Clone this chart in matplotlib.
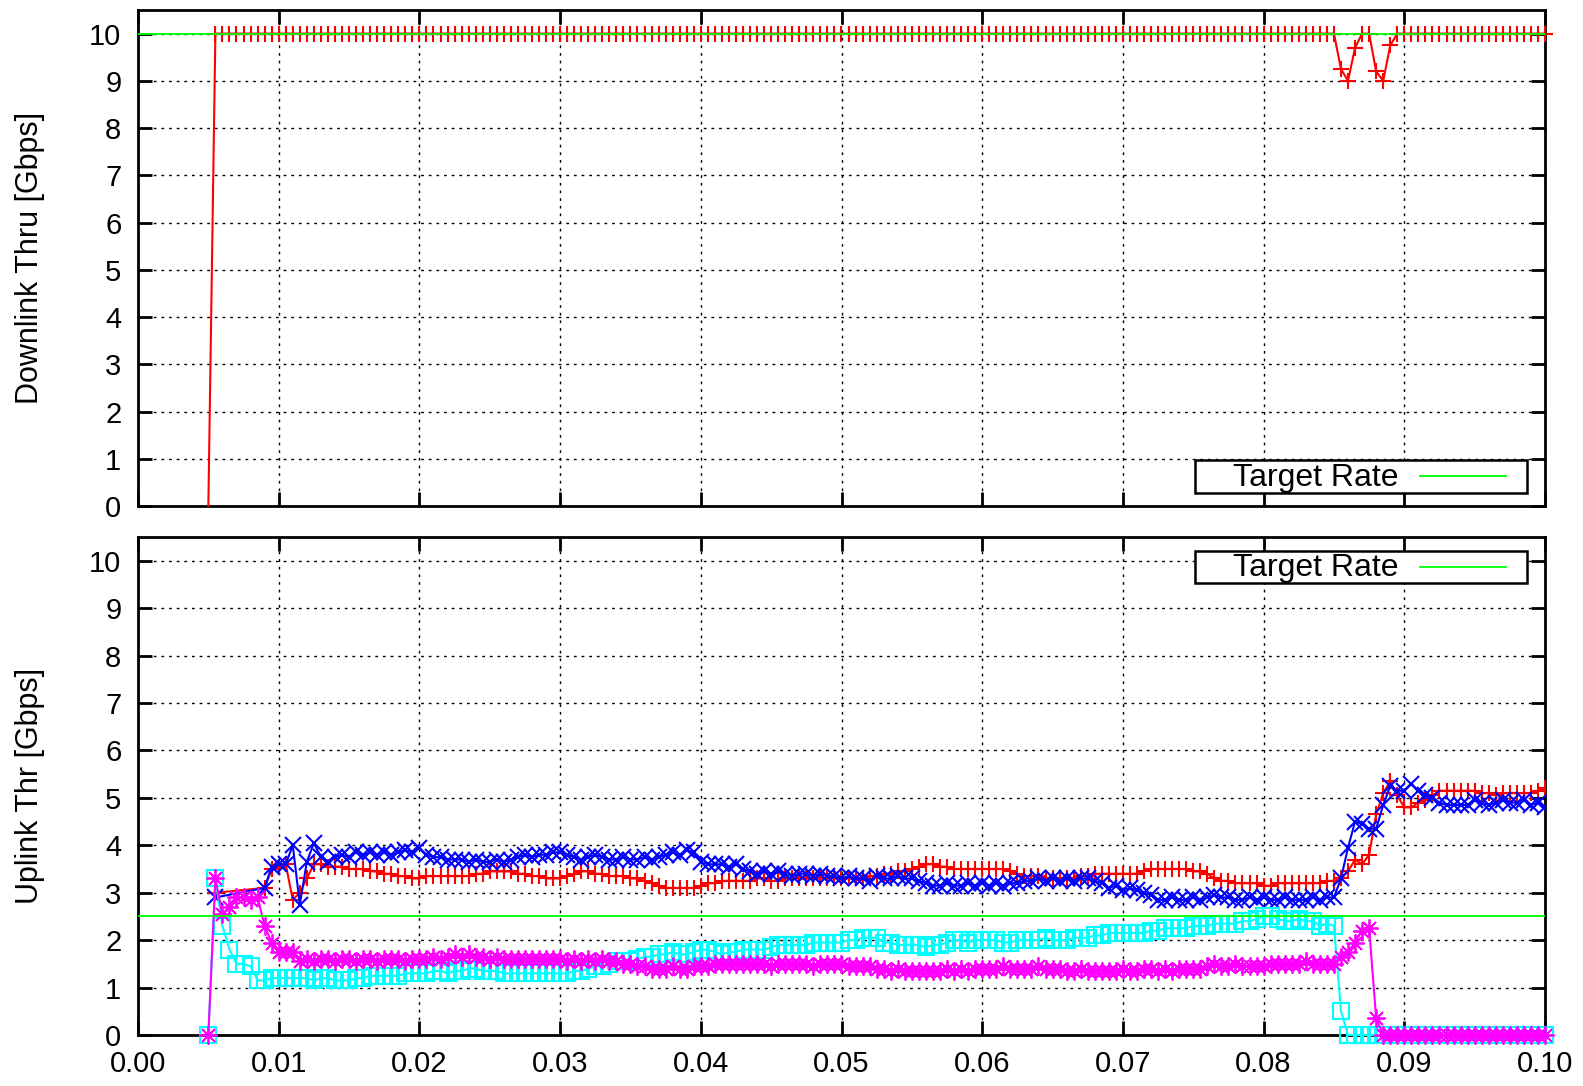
import numpy as np
import matplotlib
matplotlib.use("Agg")
import matplotlib.pyplot as plt
from matplotlib.patches import Rectangle
from matplotlib.lines import Line2D

plt.rcParams['font.family'] = ['Liberation Sans', 'DejaVu Sans']

nan = np.nan

# ---------------- data ----------------
time_start = 0.005
time_step = 0.0005
n_samples = 191
time_s = time_start + time_step * np.arange(n_samples)

target_down = 10.0
target_up = 2.5

x_ticks = [0.00, 0.01, 0.02, 0.03, 0.04, 0.05, 0.06, 0.07, 0.08, 0.09, 0.10]
x_tick_labels = ["0.00", "0.01", "0.02", "0.03", "0.04", "0.05",
                 "0.06", "0.07", "0.08", "0.09", "0.10"]
y_ticks = [0, 1, 2, 3, 4, 5, 6, 7, 8, 9, 10]

# downlink throughput (Gbps)
down_red = [
    0, 10, 10, 10, 10, 10, 10, 10, 10, 10,
    10, 10, 10, 10, 10, 10, 10, 10, 10, 10,
    10, 10, 10, 10, 10, 10, 10, 10, 10, 10,
    10, 10, 10, 10, 10, 10, 10, 10, 10, 10,
    10, 10, 10, 10, 10, 10, 10, 10, 10, 10,
    10, 10, 10, 10, 10, 10, 10, 10, 10, 10,
    10, 10, 10, 10, 10, 10, 10, 10, 10, 10,
    10, 10, 10, 10, 10, 10, 10, 10, 10, 10,
    10, 10, 10, 10, 10, 10, 10, 10, 10, 10,
    10, 10, 10, 10, 10, 10, 10, 10, 10, 10,
    10, 10, 10, 10, 10, 10, 10, 10, 10, 10,
    10, 10, 10, 10, 10, 10, 10, 10, 10, 10,
    10, 10, 10, 10, 10, 10, 10, 10, 10, 10,
    10, 10, 10, 10, 10, 10, 10, 10, 10, 10,
    10, 10, 10, 10, 10, 10, 10, 10, 10, 10,
    10, 10, 10, 10, 10, 10, 10, 10, 10, 10,
    10, 9.25, 9.0, 9.7, 10, 10, 9.2, 9.0, 9.75, 10,
    10, 10, 10, 10, 10, 10, 10, 10, 10, 10,
    10, 10, 10, 10, 10, 10, 10, 10, 10, 10,
    10,
]

# uplink throughput (Gbps); nan = no sample at that time
up_red = [
    nan, 3.0, nan, nan, nan, nan, nan, nan, 3.1, 3.5,
    3.55, 3.6, 2.85, 3.0, 3.3, 3.6, 3.6, 3.55, 3.55, 3.55,
    3.5, 3.5, 3.5, 3.45, 3.45, 3.4, 3.4, 3.35, 3.35, 3.3,
    3.3, 3.35, 3.35, 3.35, 3.35, 3.35, 3.35, 3.35, 3.4, 3.4,
    3.45, 3.45, 3.45, 3.45, 3.4, 3.4, 3.35, 3.35, 3.3, 3.3,
    3.3, 3.35, 3.4, 3.45, 3.45, 3.4, 3.4, 3.35, 3.35, 3.35,
    3.3, 3.3, 3.25, 3.2, 3.15, 3.1, 3.1, 3.1, 3.1, 3.1,
    3.15, 3.2, 3.2, 3.25, 3.25, 3.25, 3.25, 3.25, 3.3, 3.3,
    3.25, 3.25, 3.3, 3.3, 3.3, 3.3, 3.3, 3.3, 3.3, 3.3,
    3.3, 3.3, 3.3, 3.3, 3.35, 3.35, 3.4, 3.4, 3.45, 3.45,
    3.5, 3.55, 3.6, 3.6, 3.55, 3.55, 3.5, 3.5, 3.5, 3.5,
    3.5, 3.5, 3.5, 3.5, 3.45, 3.4, 3.35, 3.35, 3.35, 3.3,
    3.3, 3.3, 3.3, 3.3, 3.35, 3.35, 3.4, 3.4, 3.4, 3.4,
    3.4, 3.4, 3.4, 3.45, 3.5, 3.5, 3.5, 3.5, 3.5, 3.5,
    3.45, 3.45, 3.4, 3.3, 3.25, 3.25, 3.2, 3.2, 3.2, 3.2,
    3.15, 3.15, 3.2, 3.2, 3.2, 3.2, 3.2, 3.2, 3.2, 3.25,
    3.25, 3.3, 3.45, 3.7, 3.6, 3.8, 4.65, 5.1, 5.35, 5.05,
    4.8, 4.8, 4.9, 4.95, 5.05, 5.15, 5.15, 5.15, 5.15, 5.15,
    5.15, 5.1, 5.1, 5.05, 5.1, 5.1, 5.1, 5.1, 5.1, 5.15,
    5.2,
]

up_blue = [
    nan, 2.9, nan, nan, nan, nan, nan, nan, 3.1, 3.55,
    3.6, 3.6, 4.0, 2.75, 3.65, 4.05, 3.75, 3.65, 3.75, 3.8,
    3.75, 3.85, 3.8, 3.85, 3.8, 3.85, 3.8, 3.85, 3.9, 3.85,
    3.95, 3.8, 3.75, 3.75, 3.7, 3.7, 3.7, 3.65, 3.7, 3.65,
    3.65, 3.7, 3.65, 3.7, 3.75, 3.8, 3.75, 3.8, 3.8, 3.85,
    3.85, 3.8, 3.75, 3.7, 3.75, 3.8, 3.75, 3.7, 3.7, 3.75,
    3.7, 3.7, 3.75, 3.7, 3.75, 3.8, 3.85, 3.8, 3.9, 3.85,
    3.65, 3.6, 3.6, 3.6, 3.55, 3.6, 3.5, 3.45, 3.4, 3.45,
    3.4, 3.45, 3.4, 3.35, 3.4, 3.4, 3.35, 3.4, 3.35, 3.35,
    3.3, 3.35, 3.3, 3.3, 3.25, 3.35, 3.3, 3.3, 3.35, 3.3,
    3.3, 3.25, 3.2, 3.15, 3.15, 3.2, 3.15, 3.15, 3.2, 3.15,
    3.2, 3.15, 3.2, 3.15, 3.2, 3.2, 3.25, 3.25, 3.3, 3.25,
    3.3, 3.25, 3.3, 3.25, 3.3, 3.3, 3.25, 3.2, 3.1, 3.15,
    3.05, 3.1, 3.05, 3.0, 2.95, 2.85, 2.85, 2.9, 2.85, 2.85,
    2.9, 2.85, 2.9, 2.95, 2.9, 2.9, 2.85, 2.85, 2.9, 2.85,
    2.9, 2.85, 2.85, 2.9, 2.85, 2.85, 2.85, 2.9, 2.85, 2.9,
    2.9, 3.3, 3.95, 4.5, 4.45, 4.35, 4.35, 4.85, 5.25, 5.15,
    5.15, 5.3, 5.15, 5.05, 5.0, 4.9, 4.85, 4.85, 4.85, 4.85,
    4.95, 4.9, 4.85, 4.9, 4.95, 4.9, 4.9, 4.95, 4.85, 4.9,
    4.8,
]

up_cyan = [
    0.0, 3.3, 2.3, 1.8, 1.5, 1.5, 1.45, 1.15, 1.15, 1.2,
    1.2, 1.2, 1.2, 1.2, 1.2, 1.15, 1.2, 1.2, 1.15, 1.15,
    1.15, 1.2, 1.2, 1.25, 1.25, 1.25, 1.25, 1.25, 1.3, 1.3,
    1.3, 1.3, 1.35, 1.35, 1.3, 1.35, 1.35, 1.4, 1.4, 1.35,
    1.35, 1.35, 1.3, 1.3, 1.3, 1.3, 1.3, 1.3, 1.3, 1.3,
    1.3, 1.3, 1.35, 1.35, 1.4, 1.45, 1.45, 1.5, 1.55, 1.55,
    1.55, 1.6, 1.65, 1.65, 1.7, 1.7, 1.75, 1.7, 1.7, 1.75,
    1.8, 1.8, 1.75, 1.7, 1.75, 1.75, 1.8, 1.8, 1.8, 1.8,
    1.85, 1.9, 1.9, 1.9, 1.9, 1.9, 1.95, 1.95, 1.95, 1.95,
    1.95, 2.0, 2.0, 2.05, 2.05, 2.05, 1.95, 1.95, 1.9, 1.9,
    1.9, 1.9, 1.85, 1.9, 1.9, 1.95, 2.0, 2.0, 1.95, 2.0,
    2.0, 2.0, 2.0, 1.95, 1.95, 2.0, 2.0, 2.0, 2.0, 2.05,
    2.0, 2.0, 2.0, 2.05, 2.05, 2.05, 2.1, 2.1, 2.15, 2.15,
    2.15, 2.15, 2.15, 2.15, 2.2, 2.2, 2.25, 2.25, 2.25, 2.25,
    2.3, 2.3, 2.3, 2.35, 2.35, 2.35, 2.35, 2.4, 2.4, 2.45,
    2.5, 2.5, 2.45, 2.4, 2.4, 2.45, 2.4, 2.4, 2.3, 2.35,
    2.3, 0.5, 0.0, 0.0, 0.0, 0.0, 0.0, 0.0, 0.0, 0.0,
    0.0, 0.0, 0.0, 0.0, 0.0, 0.0, 0.0, 0.0, 0.0, 0.0,
    0.0, 0.0, 0.0, 0.0, 0.0, 0.0, 0.0, 0.0, 0.0, 0.0,
    0.0,
]

up_magenta = [
    0.0, 3.3, 2.55, 2.7, 2.9, 2.9, 2.85, 2.9, 2.3, 1.95,
    1.75, 1.75, 1.75, 1.55, 1.6, 1.55, 1.6, 1.6, 1.55, 1.6,
    1.6, 1.55, 1.6, 1.6, 1.55, 1.6, 1.6, 1.6, 1.55, 1.6,
    1.6, 1.6, 1.65, 1.6, 1.65, 1.7, 1.65, 1.7, 1.65, 1.65,
    1.6, 1.65, 1.6, 1.6, 1.6, 1.6, 1.6, 1.6, 1.6, 1.6,
    1.6, 1.55, 1.6, 1.55, 1.6, 1.55, 1.6, 1.55, 1.55, 1.5,
    1.5, 1.45, 1.45, 1.4, 1.4, 1.4, 1.45, 1.4, 1.4, 1.45,
    1.45, 1.45, 1.5, 1.5, 1.5, 1.5, 1.5, 1.5, 1.5, 1.5,
    1.45, 1.5, 1.5, 1.5, 1.5, 1.5, 1.45, 1.5, 1.5, 1.5,
    1.5, 1.45, 1.45, 1.45, 1.45, 1.4, 1.4, 1.35, 1.4, 1.35,
    1.35, 1.35, 1.35, 1.35, 1.35, 1.4, 1.35, 1.4, 1.35, 1.4,
    1.4, 1.4, 1.4, 1.45, 1.4, 1.4, 1.4, 1.4, 1.45, 1.4,
    1.4, 1.4, 1.35, 1.35, 1.4, 1.35, 1.35, 1.35, 1.35, 1.35,
    1.4, 1.35, 1.35, 1.4, 1.4, 1.35, 1.4, 1.35, 1.4, 1.4,
    1.4, 1.4, 1.45, 1.5, 1.45, 1.45, 1.5, 1.45, 1.45, 1.45,
    1.45, 1.5, 1.5, 1.5, 1.5, 1.5, 1.55, 1.5, 1.5, 1.5,
    1.5, 1.65, 1.75, 1.95, 2.2, 2.25, 0.35, 0.0, 0.0, 0.0,
    0.0, 0.0, 0.0, 0.0, 0.0, 0.0, 0.0, 0.0, 0.0, 0.0,
    0.0, 0.0, 0.0, 0.0, 0.0, 0.0, 0.0, 0.0, 0.0, 0.0,
    0.0,
]

# ---------------- figure ----------------
W, H = 1583, 1086
fig = plt.figure(figsize=(W / 100, H / 100), dpi=100)

left_px, right_px = 138, 1545
top_box = (10, 506)
bot_box = (537, 1035)


def make_axes(box):
    y0, y1 = box
    return fig.add_axes([left_px / W, 1 - y1 / H, (right_px - left_px) / W, (y1 - y0) / H])


ax_top = make_axes(top_box)
ax_bot = make_axes(bot_box)

TICK_FS = 21
LABEL_FS = 22
KEY_FS = 23
mew = 1.5
lw = 1.5


def style_axes(ax, show_xlabels):
    ax.set_xlim(0, 0.1)
    ax.set_ylim(0, 10.5)
    ax.set_xticks(x_ticks)
    ax.set_yticks(y_ticks)
    if show_xlabels:
        ax.set_xticklabels(x_tick_labels)
    else:
        ax.set_xticklabels([])
    ax.tick_params(direction='in', length=10, width=2.0, top=True, right=True,
                   labelsize=TICK_FS)
    ax.tick_params(axis='y', pad=12)
    ax.tick_params(axis='x', pad=11)
    for s in ax.spines.values():
        s.set_linewidth(2.0)
    ax.grid(True, color='black', linestyle=(0, (2, 3.5)), linewidth=1.0)
    ax.set_axisbelow(True)


def draw_key(ax, y0, y1):
    x0, x1 = 0.751, 0.987
    ax.add_patch(Rectangle((x0, y0), x1 - x0, y1 - y0, transform=ax.transAxes,
                           facecolor='white', edgecolor='black', linewidth=1.8,
                           zorder=10))
    yc = (y0 + y1) / 2
    ax.text(0.896, yc - 0.003, "Target Rate", transform=ax.transAxes, ha='right',
            va='center', fontsize=KEY_FS, zorder=11)
    ax.add_line(Line2D([0.911, 0.972], [yc, yc], transform=ax.transAxes,
                       color='#00ff00', linewidth=1.3, zorder=11))


def plot_series(ax, x, y, **kw):
    x = np.asarray(x, dtype=float)
    y = np.asarray(y, dtype=float)
    ok = np.isfinite(y)
    ax.plot(x[ok], y[ok], **kw)


# top: downlink
ax_top.plot(time_s, down_red, color='red', marker='+', markersize=12,
            markeredgewidth=mew, linewidth=lw, markevery=slice(1, None),
            clip_on=False, zorder=3)
ax_top.axhline(target_down, color='#00ff00', linewidth=1.3, zorder=4)
style_axes(ax_top, False)
ax_top.set_ylabel("Downlink Thru [Gbps]", fontsize=LABEL_FS)
ax_top.yaxis.set_label_coords(-0.066, 0.5)
draw_key(ax_top, 0.026, 0.093)

# bottom: uplink
asterisk = (8, 2, 0)
plot_series(ax_bot, time_s, up_red, color='red', marker='+', markersize=12,
            markeredgewidth=mew, linewidth=lw, zorder=3)
plot_series(ax_bot, time_s, up_blue, color='blue', marker='x', markersize=11,
            markeredgewidth=mew, linewidth=lw, zorder=3)
plot_series(ax_bot, time_s, up_cyan, color='cyan', marker='s', markersize=11,
            markerfacecolor='none', markeredgewidth=mew, linewidth=lw,
            clip_on=False, zorder=3)
plot_series(ax_bot, time_s, up_magenta, color='magenta', marker=asterisk,
            markersize=13, markeredgewidth=1.3, linewidth=lw, clip_on=False,
            zorder=3)
ax_bot.axhline(target_up, color='#00ff00', linewidth=1.3, zorder=4)
style_axes(ax_bot, True)
ax_bot.set_ylabel("Uplink Thr [Gbps]", fontsize=LABEL_FS)
ax_bot.yaxis.set_label_coords(-0.066, 0.5)
draw_key(ax_bot, 0.908, 0.972)

fig.savefig("out.png", dpi=100)
